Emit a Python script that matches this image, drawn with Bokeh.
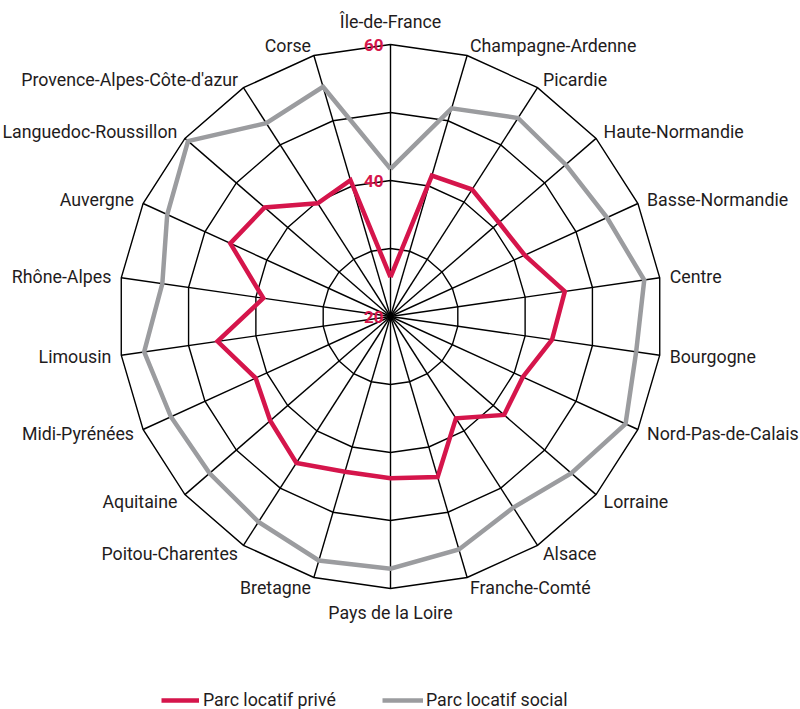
import math
from bokeh.plotting import figure
from bokeh.models import Range1d, Legend, LegendItem
from bokeh.core.properties import value
from bokeh.embed import file_html
from bokeh.resources import INLINE

categories = ["Île-de-France", "Champagne-Ardenne", "Picardie", "Haute-Normandie",
              "Basse-Normandie", "Centre", "Bourgogne", "Nord-Pas-de-Calais",
              "Lorraine", "Alsace", "Franche-Comté", "Pays de la Loire", "Bretagne",
              "Poitou-Charentes", "Aquitaine", "Midi-Pyrénées", "Limousin",
              "Rhône-Alpes", "Auvergne", "Languedoc-Roussillon",
              "Provence-Alpes-Côte-d'azur", "Corse"]
prive = [25.8, 41.6, 42.2, 41.1, 41.7, 45.9, 44.0, 41.4, 42.1, 37.8, 44.6,
         43.8, 43.8, 45.6, 43.4, 41.8, 45.7, 38.9, 45.9, 44.5, 39.8, 40.9]
social = [41.7, 51.9, 54.7, 54.1, 55.0, 57.7, 56.5, 58.0, 55.2, 53.4, 55.7,
          57.1, 57.4, 55.9, 55.2, 55.5, 56.6, 53.9, 56.1, 59.4, 53.8, 55.2]
series_names = ["Parc locatif privé", "Parc locatif social"]
ring_values = [30, 40, 50, 60]
tick_values = [20, 40, 60]
tick_labels = ["20", "40", "60"]
r_min, r_max = 20, 60

RED = "#d5154b"
GREY = "#9b9c9f"
INK = "#1f1c1d"
FONT = "Roboto"
FS = "17.8px"

W, H = 800, 709
scale = 6.8            # pixels per unit
cx_px, cy_px = 390, 316

n = len(categories)
angles = [2 * math.pi * i / n for i in range(n)]


def polar(vals):
    xs = [(v - r_min) * math.sin(a) for v, a in zip(vals, angles)]
    ys = [(v - r_min) * math.cos(a) for v, a in zip(vals, angles)]
    return xs + xs[:1], ys + ys[:1]


p = figure(width=W, height=H, output_backend="svg", toolbar_location=None,
           x_range=Range1d(-cx_px / scale, (W - cx_px) / scale),
           y_range=Range1d(-(H - cy_px) / scale, cy_px / scale),
           x_axis_location=None, y_axis_location=None,
           min_border=0, outline_line_color=None)
p.grid.visible = False

# grid: rings and spokes
ring_xs, ring_ys = [], []
for rv in ring_values:
    xs, ys = polar([rv] * n)
    ring_xs.append(xs)
    ring_ys.append(ys)
p.multi_line(ring_xs, ring_ys, line_color="black", line_width=1.4, line_join="miter")
sx, sy = polar([r_max] * n)
p.multi_line([[0, x] for x in sx[:-1]], [[0, y] for y in sy[:-1]],
             line_color="black", line_width=1.4)

# data
gx, gy = polar(social)
r_soc = p.line(gx, gy, line_color=GREY, line_width=4.5, line_join="miter")
rx, ry = polar(prive)
r_pri = p.line(rx, ry, line_color=RED, line_width=4.5, line_join="miter")

# category labels
side_off = 10 / scale
tb_off = 13 / scale
groups = {"top": ([], [], []), "bottom": ([], [], []), "left": ([], [], []), "right": ([], [], [])}
for cat, a in zip(categories, angles):
    s, c = math.sin(a), math.cos(a)
    if abs(s) < 1e-6:
        rr = r_max - r_min + tb_off
        key = "top" if c > 0 else "bottom"
    else:
        rr = r_max - r_min + side_off
        key = "left" if s > 0 else "right"
    groups[key][0].append(rr * s)
    groups[key][1].append(rr * c)
    groups[key][2].append(cat)

specs = {"top": ("center", "bottom"), "bottom": ("center", "top"),
         "left": ("left", "middle"), "right": ("right", "middle")}
for key, (xs, ys, txt) in groups.items():
    al, bl = specs[key]
    p.text(xs, ys, text=txt, text_align=al, text_baseline=bl,
           text_font=value(FONT), text_font_size=FS, text_color=INK)

# radial tick labels
p.text([-7 / scale] * len(tick_values), [v - r_min for v in tick_values], text=tick_labels,
       text_align="right", text_baseline="middle", text_font=value(FONT),
       text_font_style="bold", text_font_size="17px", text_color=RED)

# legends
leg_common = dict(orientation="horizontal", glyph_height=16, label_height=16,
                  padding=0, margin=0, border_line_color=None, background_fill_alpha=0,
                  label_text_font=FONT, label_text_font_size=FS,
                  label_text_color=INK)
leg1 = Legend(items=[LegendItem(label=series_names[0], renderers=[r_pri])],
              location=(161, -1), glyph_width=38, label_standoff=4, **leg_common)
leg2 = Legend(items=[LegendItem(label=series_names[1], renderers=[r_soc])],
              location=(382, -1), glyph_width=41, label_standoff=3, **leg_common)
p.add_layout(leg1)
p.add_layout(leg2)

open("out.html", "w").write(file_html(p, INLINE))
